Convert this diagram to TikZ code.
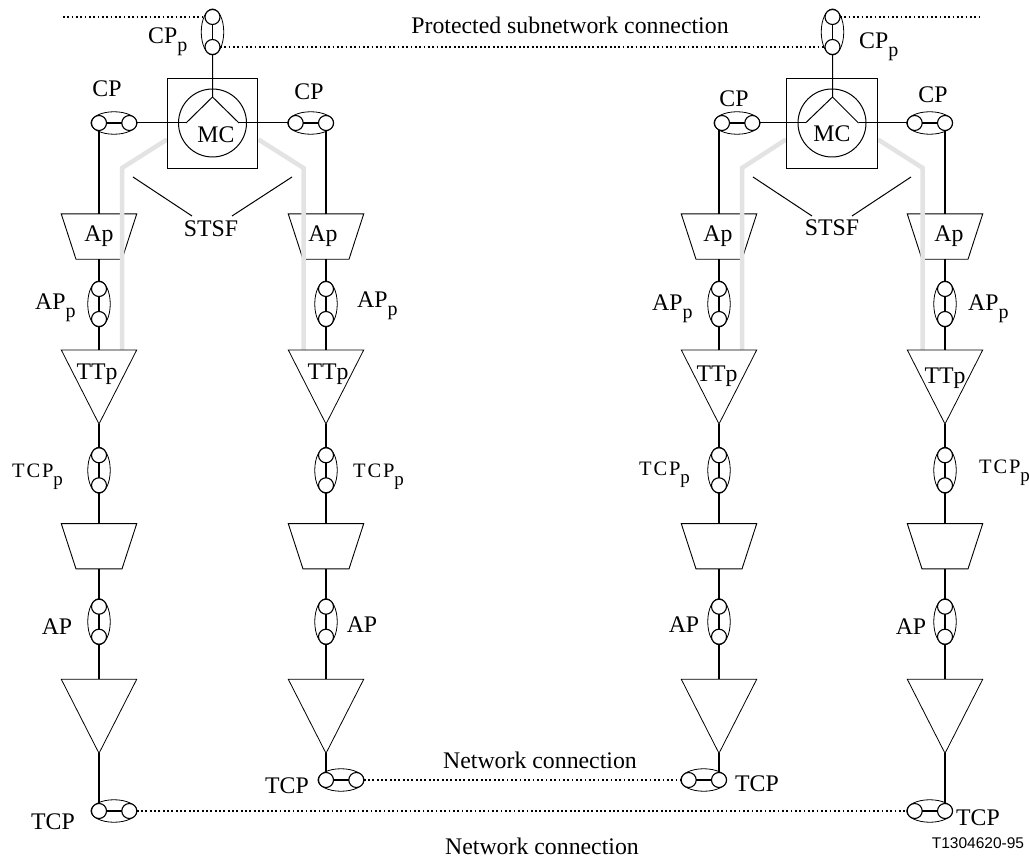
\documentclass[tikz,border=0pt]{standalone}
\usepackage{fontspec}
\setmainfont{Liberation Serif}
\newfontfamily\spacedfont[LetterSpace=9]{Liberation Serif}
\newfontfamily\arialfont{Liberation Sans}
\usetikzlibrary{shapes.geometric,calc}
\newcommand{\subp}[1]{#1\raisebox{-8pt}{\fontsize{20}{24}\selectfont p}}
\newcommand{\spsub}[1]{{\spacedfont\fontsize{20.5}{24}\selectfont #1}\raisebox{-8pt}{\fontsize{19}{22}\selectfont p}}
\newcommand{\tinybody}{\rule{0pt}{2pt}\hspace{2pt}}
\newcommand{\trapbody}{\phantom{\rule{46pt}{45.3pt}}}
\tikzset{
  small/.style={circle,draw,fill=white,line width=1.1pt,minimum size=15pt,inner sep=0pt,outer sep=0pt},
  oval/.style={ellipse,draw,line width=.8pt,inner sep=0pt,outer sep=0pt},
  bar/.style={line width=1.6pt},
  thick line/.style={line width=1.7pt},
  thin line/.style={line width=1pt},
  dots/.style={line width=1.8pt,dash pattern=on 1.8pt off 2.53pt},
  trap/.style={trapezium,trapezium left angle=72,trapezium right angle=72,shape border rotate=180,draw,line width=.9pt,inner sep=0pt,outer sep=0pt},
  tri/.style={isosceles triangle,isosceles triangle stretches=true,shape border rotate=-90,draw,line width=.8pt,minimum width=75.4pt,minimum height=74pt,inner sep=0pt,outer sep=0pt,anchor=south},
  greyline/.style={line width=4.5pt,color=black!11,line join=miter},
  lbl/.style={inner sep=0pt,font=\fontsize{23.8}{28}\selectfont},
}
\newcommand{\VPair}[3]{%
  \node[oval,minimum width=22.5pt,minimum height=46pt] (#1e) at (#2,#3+15) {};
  \node[small] (#1a) at (#2,#3) {};
  \node[small] (#1b) at (#2,#3+30) {};
  \draw[bar] (#1a) -- (#1b);}
\newcommand{\HPair}[3]{%
  \node[oval,minimum width=46pt,minimum height=22.5pt] (#1e) at (#2+15,#3) {};
  \node[small] (#1a) at (#2,#3) {};
  \node[small] (#1b) at (#2+30.3,#3) {};
  \draw[bar] (#1a) -- (#1b);}
\begin{document}
\begin{tikzpicture}[x=1pt,y=-1pt]
\useasboundingbox (0,0) rectangle (1029,858);
% lower chain and trapezoids
\foreach \n/\x in {A/99,B/326,C/719,D/945}{
  \node[trap] (ap\n) at (\x,236.6) {\trapbody};
  \node[trap] (lo\n) at (\x,546.3) {\trapbody};
}
% grey protection signals
\draw[greyline] (167,139.5) -- (122,168) -- (122,350);
\draw[greyline] (258.5,139.5) -- (303.5,168) -- (303.5,350);
\draw[greyline] (786,139.5) -- (742,168) -- (742,350);
\draw[greyline] (878,139.5) -- (922.7,168) -- (922.7,350);
\foreach \n/\x in {A/99,B/326,C/719,D/945}{
  \node[tri] (tt\n) at (\x,424) {\tinybody};
  \node[tri] (ta\n) at (\x,753.3) {\tinybody};
  \VPair{app\n}{\x}{289}
  \VPair{tcpp\n}{\x}{455.3}
  \VPair{apt\n}{\x}{606.7}
  \draw[thick line] (ap\n.south) -- (app\n a);
  \draw[thick line] (app\n b) -- (tt\n.north);
  \draw[thick line] (tt\n.south) -- (tcpp\n a);
  \draw[thick line] (tcpp\n b) -- (lo\n.north);
  \draw[thick line] (lo\n.south) -- (apt\n a);
  \draw[thick line] (apt\n b) -- (ta\n.north);
}
% matrix connections
\node[draw,line width=.9pt,minimum size=90.4pt,inner sep=0pt,outer sep=0pt] (boxL) at (212.5,123.3) {};
\node[circle,draw,line width=1pt,minimum size=68pt,inner sep=0pt,outer sep=0pt] (mcL) at (212.5,123) {};
\node[draw,line width=.9pt,minimum size=90.4pt,inner sep=0pt,outer sep=0pt] (boxR) at (832,123.3) {};
\node[circle,draw,line width=1pt,minimum size=68pt,inner sep=0pt,outer sep=0pt] (mcR) at (832,123) {};
\coordinate (yL) at (212.5,97);
\coordinate (yR) at (832.5,97);
\coordinate (lL) at (186,123);
\coordinate (rL) at (239,123);
\coordinate (lR) at (805.5,123);
\coordinate (rR) at (858.5,123);
\VPair{topL}{212.5}{17}
\VPair{topR}{832.5}{17}
\HPair{cpA}{99}{123}
\HPair{cpB}{295.7}{123}
\HPair{cpC}{722}{123}
\HPair{cpD}{914.7}{123}
\draw[thin line] (topLb) -- (yL) (lL) -- (yL) -- (rL);
\draw[thin line] (topRb) -- (yR) (lR) -- (yR) -- (rR);
\draw[thin line] (cpAb) -- (lL);
\draw[thin line] (rL) -- (cpBa);
\draw[thin line] (cpCb) -- (lR);
\draw[thin line] (rR) -- (cpDa);
\draw[thick line] (cpAa) -- (apA.north);
\draw[thick line] (cpBb) -- (apB.north);
\draw[thick line] (cpCa.south -| apC.north) -- (apC.north);
\draw[thick line] (cpDb) -- (apD.north);
% bottom termination points
\HPair{tcpA}{99}{811}
\HPair{tcpB}{326}{780}
\HPair{tcpC}{688.7}{780}
\HPair{tcpD}{914.7}{811}
\draw[thick line] (taA.south) -- (tcpAa);
\draw[thick line] (taB.south) -- (tcpBa);
\draw[thick line] (taC.south) -- (tcpCb);
\draw[thick line] (taD.south) -- (tcpDb);
% dotted connections
\coordinate (dl) at (63,17);
\coordinate (dr) at (982,17);
\draw[dots] (dl) -- (topLa);
\draw[dots] (topLb) -- (topRb);
\draw[dots] (topRa) -- (dr);
\draw[dots] (tcpBb) -- (tcpCa);
\draw[dots] (tcpAb) -- (tcpDa);
% STSF
\node[lbl] (stsfL) at (211,229) {STSF};
\node[lbl] (stsfR) at (832,228) {STSF};
\coordinate (s1) at (133,177); \coordinate (s2) at (192,216);
\coordinate (s3) at (292,177); \coordinate (s4) at (232,216);
\coordinate (s5) at (753,177); \coordinate (s6) at (812,216);
\coordinate (s7) at (911,177); \coordinate (s8) at (852,216);
\draw[thin line] (s1) -- (s2) (s3) -- (s4) (s5) -- (s6) (s7) -- (s8);
% labels
\node[lbl] (t1) at (570,25) {Protected subnetwork connection};
\node[lbl] (t2) at (540,760) {Network connection};
\node[lbl] (t3) at (542,846) {Network connection};
\node[inner sep=0pt,font=\arialfont\fontsize{15.5}{18}\selectfont] (code) at (978,843) {T1304620-95};
\node[lbl] (mL) at (216,135) {MC};
\node[lbl] (mR) at (832,134) {MC};
\node[lbl,anchor=base west] (cppL) at (148,44) {\subp{CP}};
\node[lbl,anchor=base west] (cppR) at (859,49) {\subp{CP}};
\node[lbl] (cp1) at (107,89) {CP};
\node[lbl] (cp2) at (309,92) {CP};
\node[lbl] (cp3) at (734,99) {CP};
\node[lbl] (cp4) at (933,95) {CP};
\node[lbl] (ap1) at (99,236) {Ap};
\node[lbl] (ap2) at (323,236) {Ap};
\node[lbl] (ap3) at (718,236) {Ap};
\node[lbl] (ap4) at (949,236) {Ap};
\node[lbl] (tt1) at (97,374.5) {TTp};
\node[lbl] (tt2) at (328,374.5) {TTp};
\node[lbl] (tt3) at (717,376) {TTp};
\node[lbl] (tt4) at (945,378) {TTp};
\node[lbl,anchor=base west] (appl1) at (35,310) {\subp{AP}};
\node[lbl,anchor=base west] (appl2) at (357,308) {\subp{AP}};
\node[lbl,anchor=base west] (appl3) at (652,311) {\subp{AP}};
\node[lbl,anchor=base west] (appl4) at (968,311) {\subp{AP}};
\node[lbl,anchor=base west] (tp1) at (12,478) {\spsub{TCP}};
\node[lbl,anchor=base west] (tp2) at (353,478) {\spsub{TCP}};
\node[lbl,anchor=base west] (tp3) at (639,476) {\spsub{TCP}};
\node[lbl,anchor=base west] (tp4) at (979,474) {\spsub{TCP}};
\node[lbl] (a1) at (57,627) {AP};
\node[lbl] (a2) at (362,625) {AP};
\node[lbl] (a3) at (684,625) {AP};
\node[lbl] (a4) at (911,627) {AP};
\node[lbl] (tc1) at (53,822) {TCP};
\node[lbl] (tc2) at (287,786) {TCP};
\node[lbl] (tc3) at (757,784) {TCP};
\node[lbl] (tc4) at (978,818) {TCP};
\end{tikzpicture}
\end{document}
